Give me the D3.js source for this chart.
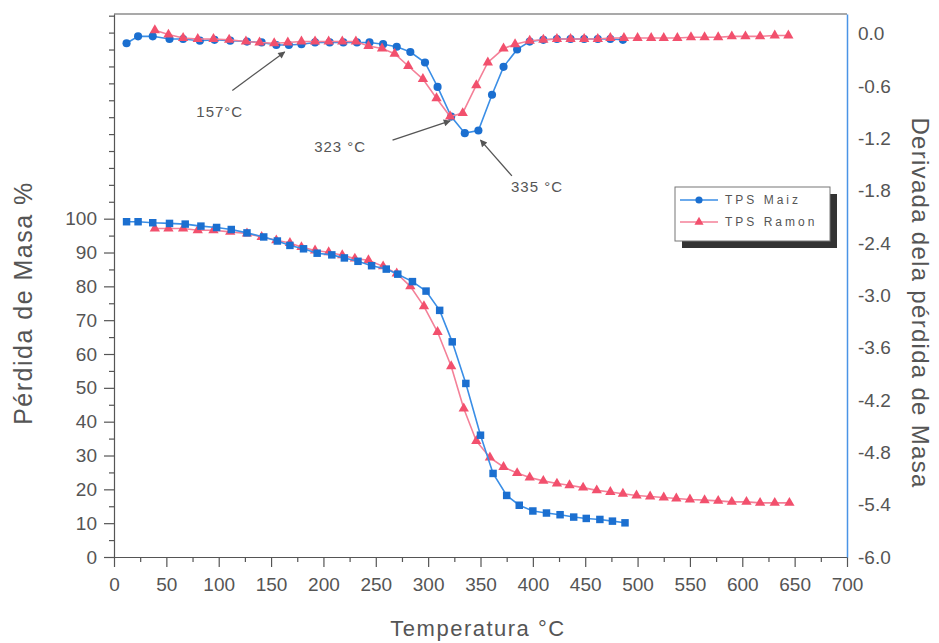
<!DOCTYPE html>
<html lang="es">
<head>
<meta charset="UTF-8">
<title>TGA / DTG TPS Maiz y TPS Ramon</title>
<script src="https://d3js.org/d3.v7.min.js"></script>
<style>
  body { margin: 0; background: #fff; font-family: "Liberation Sans", Arial, sans-serif; }
  svg text { fill: #555; }
</style>
</head>
<body>
<div id="chart"></div>
<script>
// curva de derivada (eje derecho)
const derivTempMaiz = [12, 23, 37, 53, 66, 82, 96, 111, 127, 141, 155, 167, 179, 192, 206, 219, 232, 244, 257, 270,
  283, 297, 309, 322, 335, 348, 361, 372, 385, 397, 410, 423, 436, 449, 462, 474, 486]
const derivMaiz = [-0.11, -0.03, -0.03, -0.06, -0.06, -0.08, -0.07, -0.08, -0.09, -0.10, -0.13, -0.13, -0.12, -0.10,
  -0.10, -0.10, -0.10, -0.10, -0.12, -0.15, -0.21, -0.33, -0.61, -0.95, -1.14, -1.11, -0.70, -0.38, -0.18, -0.09,
  -0.07, -0.06, -0.06, -0.06, -0.06, -0.06, -0.07]

const derivTempRamon = [39, 52, 66, 80, 95, 110, 126, 139, 153, 166, 179, 192, 205, 218, 231, 243, 256, 268, 281, 295,
  308, 321, 333, 346, 357, 372, 383, 397, 410, 423, 436, 449, 462, 474, 487, 500, 513, 525, 538, 551, 564, 577, 590,
  603, 617, 631, 644]
const derivRamon = [0.04, -0.01, -0.05, -0.06, -0.06, -0.07, -0.09, -0.10, -0.11, -0.10, -0.09, -0.09, -0.09, -0.09,
  -0.09, -0.14, -0.17, -0.23, -0.37, -0.52, -0.74, -0.95, -0.91, -0.59, -0.33, -0.17, -0.12, -0.08, -0.07, -0.06,
  -0.06, -0.06, -0.06, -0.05, -0.05, -0.05, -0.05, -0.05, -0.05, -0.04, -0.04, -0.04, -0.03, -0.03, -0.03, -0.02, -0.02]

// perdida de masa (eje izquierdo)
const massTempMaiz = [12, 23, 37, 53, 68, 83, 98, 112, 127, 143, 156, 168, 181, 194, 208, 220, 233, 246, 260, 271,
  285, 298, 311, 323, 336, 350, 362, 375, 387, 400, 413, 426, 439, 451, 464, 476, 488]
const massMaiz = [99.1, 99.1, 98.8, 98.6, 98.4, 97.8, 97.4, 96.8, 95.8, 94.6, 93.4, 92.1, 91.1, 89.8, 89.3, 88.4, 87.4,
  86.1, 85.1, 83.6, 81.4, 78.6, 72.9, 63.6, 51.3, 36.0, 24.7, 18.2, 15.3, 13.6, 13.0, 12.5, 11.8, 11.4, 11.1, 10.6, 10.1]

const massTempRamon = [39, 52, 66, 80, 95, 111, 127, 141, 155, 168, 179, 192, 205, 218, 230, 243, 257, 270, 283, 296,
  309, 322, 334, 346, 359, 372, 385, 397, 410, 423, 435, 448, 461, 474, 486, 499, 512, 525, 537, 550, 564, 577, 590,
  604, 617, 631, 645]
const massRamon = [97.1, 97.1, 97.1, 96.6, 96.6, 96.1, 95.6, 94.6, 93.6, 92.8, 91.6, 90.6, 90.1, 89.2, 88.2, 87.7,
  85.9, 83.8, 80.0, 74.1, 66.5, 56.4, 43.9, 34.3, 29.4, 26.6, 24.8, 23.5, 22.5, 21.7, 21.2, 20.5, 19.7, 19.2, 18.7,
  18.2, 17.9, 17.6, 17.3, 17.0, 16.8, 16.6, 16.3, 16.3, 16.0, 16.0, 16.0]

const tempTicks = d3.range(0, 701, 50)
const massTicks = d3.range(0, 101, 10)
const derivTicks = [0, -0.6, -1.2, -1.8, -2.4, -3.0, -3.6, -4.2, -4.8, -5.4, -6.0]

// anotaciones: texto y flecha en coordenadas de datos (eje derecho)
const notes = [
  { label: "157°C", tx: 101, ty: -0.95, from: [113, -0.65], to: [163, -0.21] },
  { label: "323 °C", tx: 216, ty: -1.36, from: [266, -1.22], to: [321, -1.0] },
  { label: "335 °C", tx: 404, ty: -1.82, from: [380, -1.63], to: [350, -1.22] }
]

const blue = "#1b6fd0", blueLine = "#3a8ee6"
const red = "#f2506d", redLine = "#f48098"

const margin = { top: 14, right: 92, bottom: 86, left: 114 },
  width = 939 - margin.left - margin.right,
  height = 643 - margin.top - margin.bottom

const svgRoot = d3.select("#chart").append("svg").attr("width", 939).attr("height", 643)
const svg = svgRoot.append("g").attr("transform", `translate(${margin.left},${margin.top})`)

const x = d3.scaleLinear().domain([0, 700]).range([0, width])
const yL = d3.scaleLinear().domain([0, 160.5]).range([height, 0])
const yR = d3.scaleLinear().domain([-6, 0.226]).range([height, 0])

// ejes
const axisColor = "#555"
const titleFont = "Liberation Sans, Arial, sans-serif"
function styleAxis(g) {
  g.selectAll("path, line").attr("stroke", axisColor).attr("stroke-width", 1.2)
  g.selectAll("text").attr("fill", "#5a5a5a").style("font-size", "19px").style("font-family", titleFont)
}

svg.append("g")
  .attr("transform", `translate(0,${height})`)
  .call(d3.axisBottom(x).tickValues(tempTicks).tickSize(10).tickSizeOuter(0).tickPadding(11))
  .call(styleAxis)
svg.append("g")
  .attr("transform", `translate(0,${height})`)
  .call(d3.axisBottom(x).tickValues(d3.range(25, 700, 50)).tickSize(5).tickFormat(""))
  .call(g => g.select(".domain").remove())
  .call(styleAxis)

svg.append("g")
  .call(d3.axisLeft(yL).tickValues(massTicks).tickSize(10).tickSizeOuter(0).tickPadding(7))
  .call(styleAxis)
svg.append("g")
  .call(d3.axisLeft(yL).tickValues(d3.range(5, 161, 5).filter(v => v > 100 || v % 10 !== 0)).tickSize(5).tickFormat(""))
  .call(g => g.select(".domain").remove())
  .call(styleAxis)

svg.append("g")
  .attr("transform", `translate(${width},0)`)
  .call(d3.axisRight(yR).tickValues(derivTicks).tickSize(0).tickSizeOuter(0).tickPadding(11).tickFormat(d => d.toFixed(1)))
  .call(styleAxis)
  .call(g => g.select(".domain").attr("stroke", "#4a94e6").attr("stroke-width", 1.5))

svg.append("line")
  .attr("x1", 0).attr("x2", width).attr("y1", 0).attr("y2", 0)
  .attr("stroke", axisColor).attr("stroke-width", 1.2)

// titulos
svgRoot.append("text")
  .attr("transform", "translate(23,303) rotate(-90)")
  .attr("text-anchor", "middle").attr("dy", "0.35em")
  .style("font-size", "25px").style("letter-spacing", "1.5px").style("font-family", titleFont)
  .text("Pérdida de Masa %")
svgRoot.append("text")
  .attr("transform", "translate(920,303) rotate(90)")
  .attr("text-anchor", "middle").attr("dy", "0.35em")
  .style("font-size", "24px").style("letter-spacing", "1.3px").style("font-family", titleFont)
  .text("Derivada dela pérdida de Masa")
svgRoot.append("text")
  .attr("x", 478).attr("y", 636)
  .attr("text-anchor", "middle")
  .style("font-size", "22px").style("letter-spacing", "1.5px").style("font-family", titleFont)
  .text("Temperatura °C")

// series
const series = [
  { temps: derivTempMaiz, vals: derivMaiz, y: yR, color: blue, line: blueLine, sym: d3.symbolCircle, size: 52 },
  { temps: derivTempRamon, vals: derivRamon, y: yR, color: red, line: redLine, sym: d3.symbolTriangle, size: 46 },
  { temps: massTempRamon, vals: massRamon, y: yL, color: red, line: redLine, sym: d3.symbolTriangle, size: 46 },
  { temps: massTempMaiz, vals: massMaiz, y: yL, color: blue, line: blueLine, sym: d3.symbolSquare, size: 56 }
]

series.forEach(s => {
  const pts = s.temps.map((t, i) => [t, s.vals[i]])
  svg.append("path")
    .datum(pts)
    .attr("fill", "none")
    .attr("stroke", s.line)
    .attr("stroke-width", 1.6)
    .attr("d", d3.line().x(d => x(d[0])).y(d => s.y(d[1])))
  svg.append("g")
    .selectAll("path")
    .data(pts)
    .join("path")
    .attr("transform", d => `translate(${x(d[0])},${s.y(d[1])})`)
    .attr("d", d3.symbol().type(s.sym).size(s.size))
    .attr("fill", s.color)
})

// flechas de anotacion
svgRoot.append("defs").append("marker")
  .attr("id", "arrow")
  .attr("viewBox", "0 0 10 10")
  .attr("refX", 9).attr("refY", 5)
  .attr("markerWidth", 10).attr("markerHeight", 7)
  .attr("markerUnits", "userSpaceOnUse")
  .attr("orient", "auto")
  .append("path")
  .attr("d", "M0,0 L10,5 L0,10 z")
  .attr("fill", "#555")

notes.forEach(n => {
  svg.append("line")
    .attr("x1", x(n.from[0])).attr("y1", yR(n.from[1]))
    .attr("x2", x(n.to[0])).attr("y2", yR(n.to[1]))
    .attr("stroke", "#555").attr("stroke-width", 1.3)
    .attr("marker-end", "url(#arrow)")
  svg.append("text")
    .attr("x", x(n.tx)).attr("y", yR(n.ty))
    .attr("text-anchor", "middle")
    .style("font-size", "15px").style("letter-spacing", "1px").style("font-family", titleFont)
    .text(n.label)
})

// leyenda
const legend = svgRoot.append("g").attr("transform", "translate(675,187)")
legend.append("rect").attr("x", 7).attr("y", 7).attr("width", 155).attr("height", 54).attr("fill", "#333")
legend.append("rect").attr("width", 155).attr("height", 54).attr("fill", "#fff").attr("stroke", "#777")
const legendItems = [
  { name: "TPS Maiz", color: blue, line: blueLine, sym: d3.symbolCircle, size: 40 },
  { name: "TPS Ramon", color: red, line: redLine, sym: d3.symbolTriangle, size: 36 }
]
legendItems.forEach((d, i) => {
  const row = legend.append("g").attr("transform", `translate(0,${13 + i * 22})`)
  row.append("line").attr("x1", 5).attr("x2", 43).attr("stroke", d.line).attr("stroke-width", 1.6)
  row.append("path").attr("transform", "translate(24,0)").attr("d", d3.symbol().type(d.sym).size(d.size)).attr("fill", d.color)
  row.append("text").attr("x", 50).attr("dy", "0.35em")
    .style("font-size", "12px").style("letter-spacing", "3px").style("font-family", titleFont)
    .text(d.name)
})
</script>
</body>
</html>
